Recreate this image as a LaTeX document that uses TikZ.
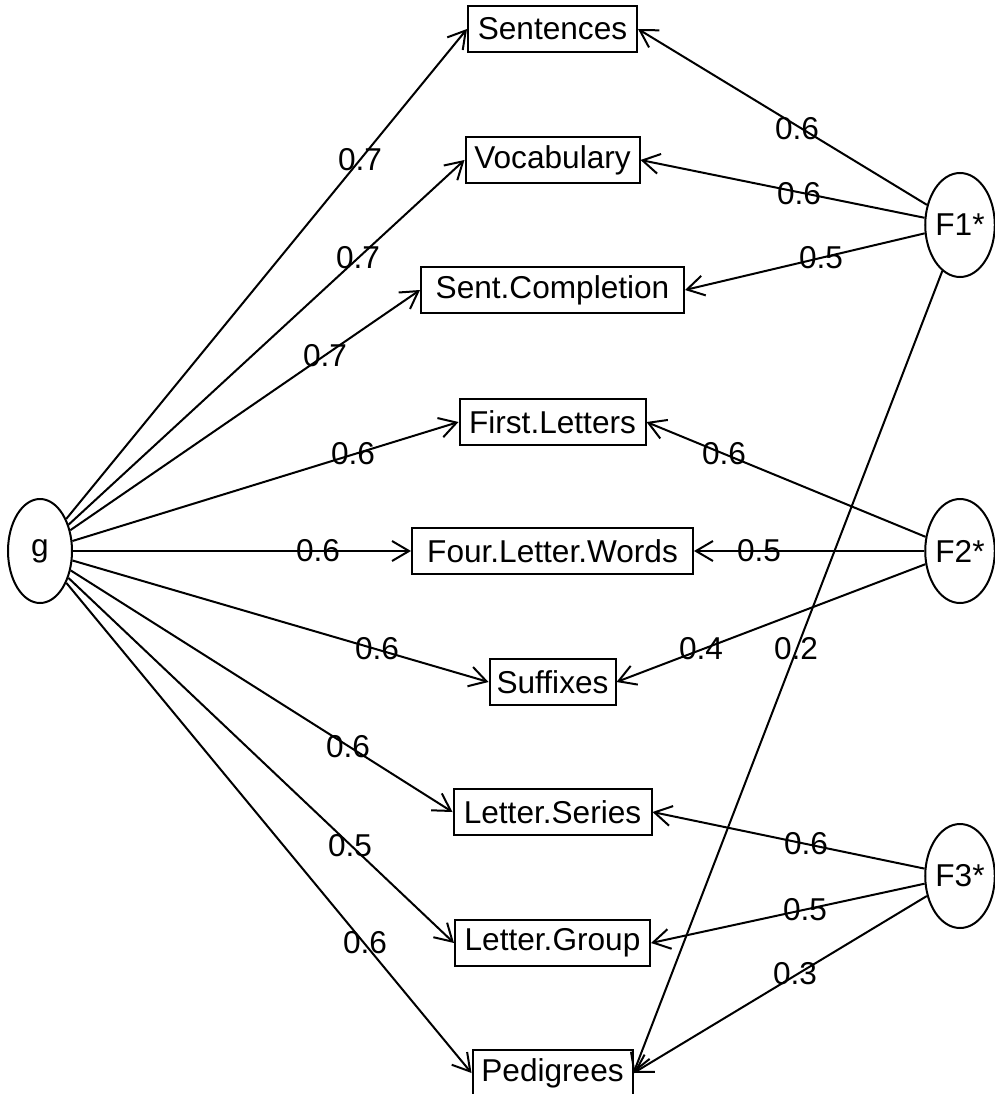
\documentclass[tikz,border=0pt]{standalone}
\usepackage{fontspec}
\setmainfont{Liberation Sans}
\usetikzlibrary{arrows.meta,shapes.geometric}
\begin{document}
\begin{tikzpicture}[x=1pt,y=-1pt,
  every node/.style={font=\fontsize{31.6}{36}\selectfont},
  obs/.style={draw, line width=2pt, rectangle, minimum height=46pt, inner sep=0pt, minimum width=#1},
  latent/.style={draw, line width=2pt, ellipse, minimum width=64pt, minimum height=104pt, inner sep=0pt},
  load/.style={draw, line width=2pt, -{Straight Barb[length=17pt,width=20pt,line width=2pt]}},
  lab/.style={inner sep=0pt}
]
\fill[white] (0,0) rectangle (994,1094);
\useasboundingbox (0,0) rectangle (994,1094);
% latent factors
\node[latent] (g)  at (40,551)  {g};
\node[latent] (F1) at (960,225) {F1*};
\node[latent] (F2) at (960,551) {F2*};
\node[latent] (F3) at (960,876) {F3*};
% observed variables
\node[obs=169pt] (s1) at (552.5,29)   {Sentences};
\node[obs=174pt] (s2) at (552.5,160)  {Vocabulary};
\node[obs=263pt] (s3) at (552.5,290)  {Sent.Completion};
\node[obs=186pt] (s4) at (552.5,422)  {First.Letters};
\node[obs=281pt] (s5) at (552.5,551)  {Four.Letter.Words};
\node[obs=126pt] (s6) at (552.5,682)  {Suffixes};
\node[obs=198pt] (s7) at (552.5,812)  {Letter.Series};
\node[obs=195pt] (s8) at (552.5,943)  {Letter.Group};
\node[obs=160pt] (s9) at (552.5,1073) {Pedigrees};
% g loadings
\draw[load] (g) -- (s1.west);
\draw[load] (g) -- (s2.west);
\draw[load] (g) -- (s3.west);
\draw[load] (g) -- (s4.west);
\draw[load] (g) -- (s5.west);
\draw[load] (g) -- (s6.west);
\draw[load] (g) -- (s7.west);
\draw[load] (g) -- (s8.west);
\draw[load] (g) -- (s9.west);
% group factor loadings
\draw[load] (F1) -- (s1.east);
\draw[load] (F1) -- (s2.east);
\draw[load] (F1) -- (s3.east);
\draw[load] (F1) -- (s9.east);
\draw[load] (F2) -- (s4.east);
\draw[load] (F2) -- (s5.east);
\draw[load] (F2) -- (s6.east);
\draw[load] (F3) -- (s7.east);
\draw[load] (F3) -- (s8.east);
\draw[load] (F3) -- (s9.east);
% labels
\node[lab] (lg1) at (360,160) {0.7};
\node[lab] (lg2) at (358,258) {0.7};
\node[lab] (lg3) at (325,356) {0.7};
\node[lab] (lg4) at (353,454) {0.6};
\node[lab] (lg5) at (318,551) {0.6};
\node[lab] (lg6) at (377,649) {0.6};
\node[lab] (lg7) at (348,747) {0.6};
\node[lab] (lg8) at (350,846) {0.5};
\node[lab] (lg9) at (365,943) {0.6};
\node[lab] (lf11) at (797,129) {0.6};
\node[lab] (lf12) at (799,194) {0.6};
\node[lab] (lf13) at (821,258) {0.5};
\node[lab] (lf19) at (796,649) {0.2};
\node[lab] (lf24) at (724,454) {0.6};
\node[lab] (lf25) at (759,551) {0.5};
\node[lab] (lf26) at (701,649) {0.4};
\node[lab] (lf37) at (806,844) {0.6};
\node[lab] (lf38) at (805,910) {0.5};
\node[lab] (lf39) at (795,974) {0.3};
\end{tikzpicture}
\end{document}
